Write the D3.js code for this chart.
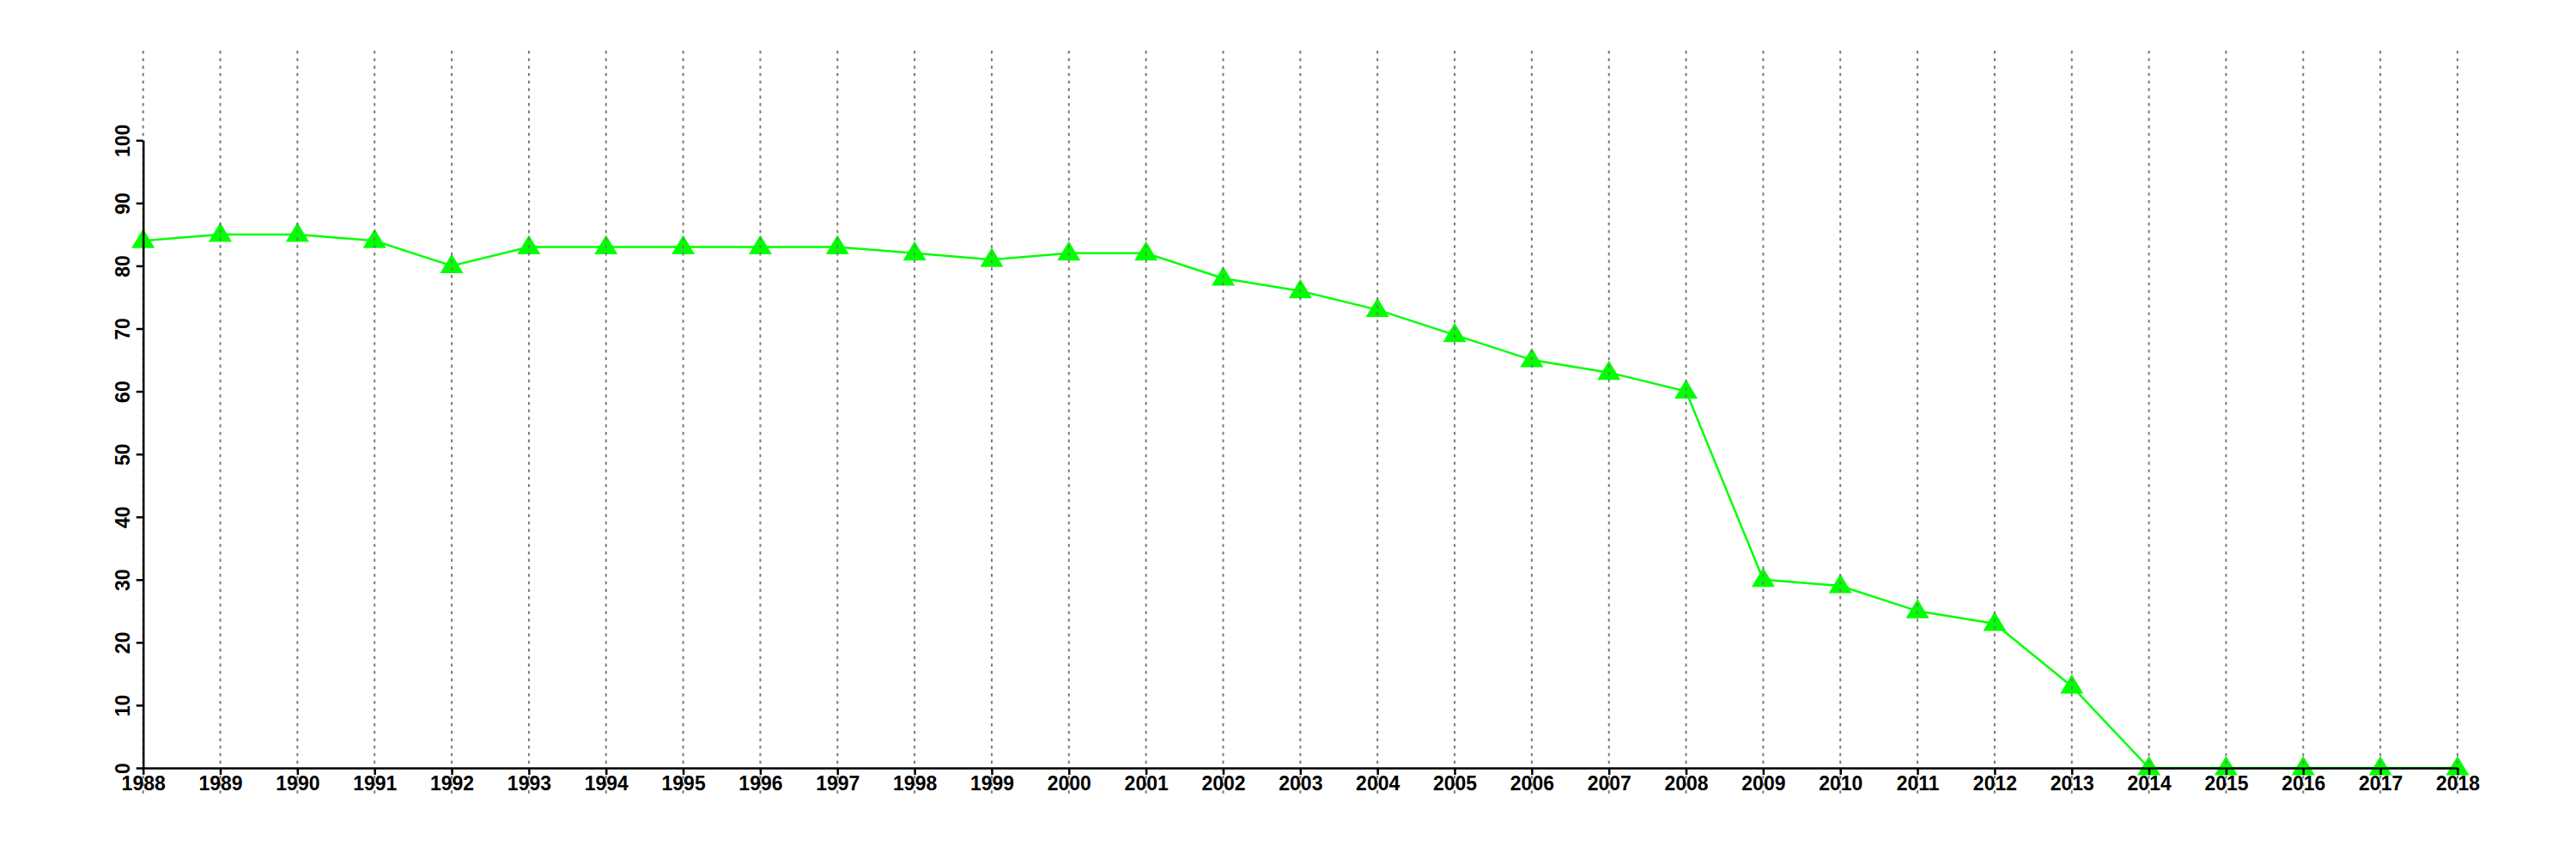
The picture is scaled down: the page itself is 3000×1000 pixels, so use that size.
<!DOCTYPE html>
<html>
<head>
<meta charset="utf-8">
<script src="https://cdn.jsdelivr.net/npm/d3@7"></script>
<style>
  html, body { margin: 0; padding: 0; background: #fff; }
  svg { display: block; }
  text { font-family: "Liberation Sans", Arial, Helvetica, sans-serif; font-weight: bold; }
</style>
</head>
<body>
<svg id="chart" width="3000" height="1000"></svg>
<script>
const years = [1988,1989,1990,1991,1992,1993,1994,1995,1996,1997,1998,1999,2000,2001,2002,2003,2004,2005,2006,2007,2008,2009,2010,2011,2012,2013,2014,2015,2016,2017,2018];
const values = [84,85,85,84,80,83,83,83,83,83,82,81,82,82,78,76,73,69,65,63,60,30,29,25,23,13,0,0,0,0,0];
const yTicks = [0,10,20,30,40,50,60,70,80,90,100];

const svg = d3.select("#chart");
const x = d3.scaleLinear().domain([1988, 2018]).range([166.7, 2862]);
const y = d3.scaleLinear().domain([0, 100]).range([894, 163.3]);

const data = years.map((yr, i) => ({ year: yr, value: values[i] }));

// line
svg.append("path")
  .datum(data)
  .attr("fill", "none")
  .attr("stroke", "#00ff00")
  .attr("stroke-width", 2.5)
  .attr("d", d3.line().x(d => x(d.year)).y(d => y(d.value)));

// triangle markers
const tri = "M0,-14L13.5,8.5L-13.5,8.5Z";
svg.append("g").selectAll("path")
  .data(data)
  .join("path")
  .attr("d", tri)
  .attr("fill", "#00ff00")
  .attr("transform", d => `translate(${x(d.year)},${y(d.value)})`);

// vertical dotted gridlines
svg.append("g").selectAll("line")
  .data(years)
  .join("line")
  .attr("x1", d => x(d)).attr("x2", d => x(d))
  .attr("y1", 59).attr("y2", 927)
  .attr("stroke", "#7a7a7a")
  .attr("stroke-width", 2)
  .attr("stroke-dasharray", "3.5,5.2");

// x axis
const xAxis = svg.append("g")
  .attr("transform", `translate(0,${y(0)})`)
  .call(d3.axisBottom(x).tickValues(years).tickFormat(d3.format("d")).tickSize(8).tickSizeOuter(0).tickPadding(2));
xAxis.select(".domain").attr("stroke", "#000").attr("stroke-width", 2.5);
xAxis.selectAll(".tick line").attr("stroke", "#000").attr("stroke-width", 2.5);
xAxis.selectAll(".tick text")
  .attr("fill", "#000")
  .style("font-size", "23px")
  .style("font-weight", "bold")
  .style("font-family", "'Liberation Sans', Arial, sans-serif");

// y axis
const yAxis = svg.append("g")
  .attr("transform", `translate(${x(1988)},0)`)
  .call(d3.axisLeft(y).tickValues(yTicks).tickSize(8).tickSizeOuter(0));
yAxis.select(".domain").attr("stroke", "#000").attr("stroke-width", 2.5);
yAxis.selectAll(".tick line").attr("stroke", "#000").attr("stroke-width", 2.5);
yAxis.selectAll(".tick text")
  .attr("transform", "rotate(-90)")
  .attr("x", 0)
  .attr("y", -16)
  .attr("dy", 0)
  .attr("text-anchor", "middle")
  .attr("fill", "#000")
  .style("font-size", "23px")
  .style("font-weight", "bold")
  .style("font-family", "'Liberation Sans', Arial, sans-serif");
</script>
</body>
</html>
